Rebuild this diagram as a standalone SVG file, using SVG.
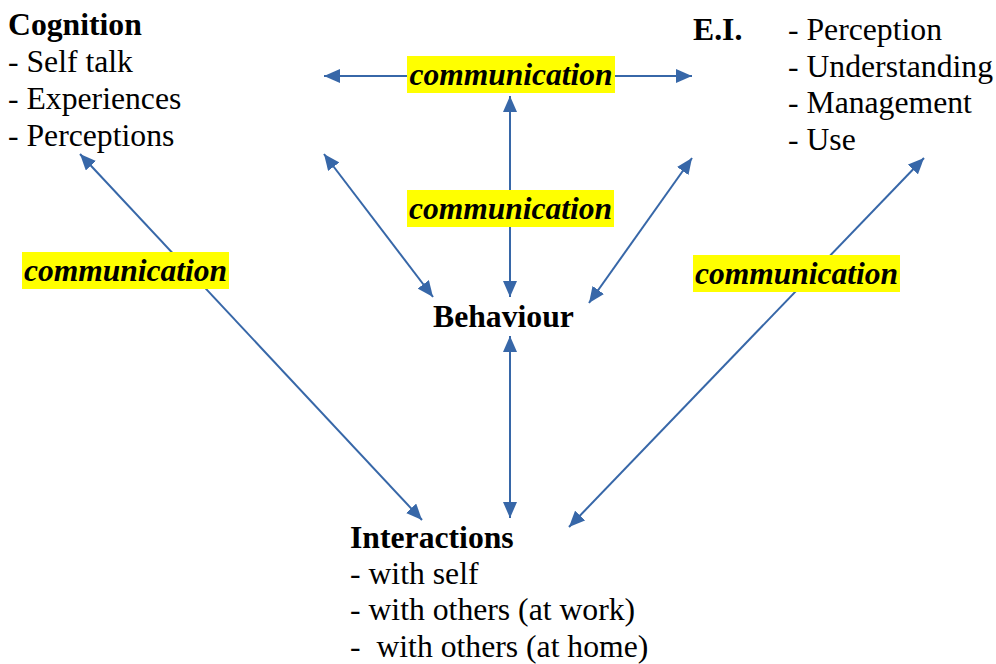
<svg xmlns="http://www.w3.org/2000/svg" width="996" height="664" viewBox="0 0 996 664">
<defs>
<marker id="ah" markerUnits="userSpaceOnUse" markerWidth="16" markerHeight="14" refX="16" refY="7" orient="auto-start-reverse" viewBox="0 0 16 14">
<path d="M0,0 L16,7 L0,14 z" fill="#3767A8"/>
</marker>
</defs>
<style>
text{font-family:"Liberation Serif","Times New Roman",serif}
.t{font-size:31.7px;fill:#000;white-space:pre}
.b{font-weight:bold}
.lbl{font-size:31.5px;font-weight:bold;font-style:italic;fill:#000}
.hl{fill:#FFFF00}
.c{stroke:#3767A8;stroke-width:2;fill:none;marker-start:url(#ah);marker-end:url(#ah)}
</style>
<rect width="996" height="664" fill="#fff"/>
<g id="connectors">
<line class="c" x1="324" y1="76" x2="692" y2="76"/>
<line class="c" x1="510" y1="96" x2="510" y2="297"/>
<line class="c" x1="324" y1="154" x2="433" y2="297"/>
<line class="c" x1="692" y1="158" x2="589" y2="303"/>
<line class="c" x1="510" y1="336" x2="510" y2="518"/>
<line class="c" x1="80" y1="154" x2="422" y2="520"/>
<line class="c" x1="924" y1="158" x2="569" y2="527"/>
</g>
<g id="label-top">
<rect class="hl" x="407" y="56" width="208" height="37"/>
<text class="lbl" x="511" y="85" text-anchor="middle">communication</text>
</g>
<g id="label-middle">
<rect class="hl" x="407" y="190" width="207" height="37"/>
<text class="lbl" x="510.5" y="219" text-anchor="middle">communication</text>
</g>
<g id="label-left">
<rect class="hl" x="22" y="252" width="207" height="37"/>
<text class="lbl" x="125.5" y="281" text-anchor="middle">communication</text>
</g>
<g id="label-right">
<rect class="hl" x="693" y="255" width="207" height="37"/>
<text class="lbl" x="796.5" y="284" text-anchor="middle">communication</text>
</g>
<g id="cognition">
<text class="t b" x="8" y="35">Cognition</text>
<text class="t" x="8" y="72">- Self talk</text>
<text class="t" x="8" y="109">- Experiences</text>
<text class="t" x="8" y="146">- Perceptions</text>
</g>
<g id="ei">
<text class="t b" x="693" y="40">E.I.</text>
<text class="t" x="788" y="40">- Perception</text>
<text class="t" x="788" y="77">- Understanding</text>
<text class="t" x="788" y="113">- Management</text>
<text class="t" x="788" y="150">- Use</text>
</g>
<g id="behaviour">
<text class="t b" x="433" y="327">Behaviour</text>
</g>
<g id="interactions">
<text class="t b" x="350" y="548">Interactions</text>
<text class="t" x="350" y="584">- with self</text>
<text class="t" x="350" y="620">- with others (at work)</text>
<text class="t" x="350" y="657">-  with others (at home)</text>
</g>
</svg>
